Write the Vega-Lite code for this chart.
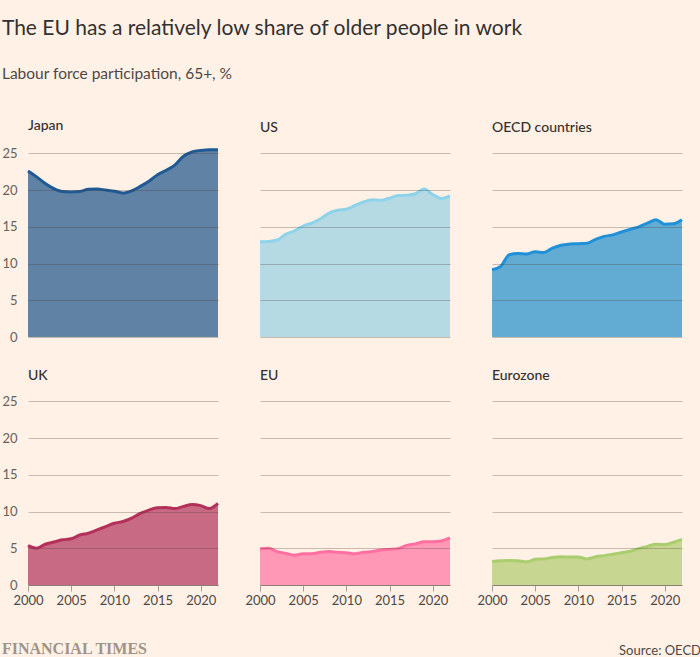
{
  "$schema": "https://vega.github.io/schema/vega-lite/v6.json",
  "padding": {"left": 1, "top": 18, "right": 1, "bottom": 0},
  "background": "#fff1e5",
  "title": {
    "text": "The EU has a relatively low share of older people in work",
    "subtitle": "Labour force participation, 65+, %",
    "anchor": "start",
    "frame": "bounds",
    "fontSize": 21,
    "fontWeight": "normal",
    "color": "#33302e",
    "subtitleFontSize": 15.5,
    "subtitleColor": "#4d4845",
    "subtitlePadding": 28,
    "offset": 36
  },
  "datasets": {
    "lfp": [
      {"country":"Japan","year":2000,"value":22.6},{"country":"Japan","year":2001,"value":21.8},{"country":"Japan","year":2002,"value":20.9},{"country":"Japan","year":2003,"value":20.2},{"country":"Japan","year":2004,"value":19.8},{"country":"Japan","year":2005,"value":19.75},{"country":"Japan","year":2006,"value":19.8},{"country":"Japan","year":2007,"value":20.1},{"country":"Japan","year":2008,"value":20.15},{"country":"Japan","year":2009,"value":20.0},{"country":"Japan","year":2010,"value":19.85},{"country":"Japan","year":2011,"value":19.6},{"country":"Japan","year":2012,"value":19.9},{"country":"Japan","year":2013,"value":20.5},{"country":"Japan","year":2014,"value":21.2},{"country":"Japan","year":2015,"value":22.1},{"country":"Japan","year":2016,"value":22.7},{"country":"Japan","year":2017,"value":23.4},{"country":"Japan","year":2018,"value":24.6},{"country":"Japan","year":2019,"value":25.2},{"country":"Japan","year":2020,"value":25.4},{"country":"Japan","year":2021,"value":25.5},{"country":"Japan","year":2022,"value":25.5},
      {"country":"US","year":2000,"value":12.95},{"country":"US","year":2001,"value":13.0},{"country":"US","year":2002,"value":13.2},{"country":"US","year":2003,"value":14.0},{"country":"US","year":2004,"value":14.45},{"country":"US","year":2005,"value":15.1},{"country":"US","year":2006,"value":15.5},{"country":"US","year":2007,"value":16.1},{"country":"US","year":2008,"value":16.85},{"country":"US","year":2009,"value":17.25},{"country":"US","year":2010,"value":17.4},{"country":"US","year":2011,"value":17.9},{"country":"US","year":2012,"value":18.4},{"country":"US","year":2013,"value":18.7},{"country":"US","year":2014,"value":18.6},{"country":"US","year":2015,"value":18.9},{"country":"US","year":2016,"value":19.25},{"country":"US","year":2017,"value":19.3},{"country":"US","year":2018,"value":19.5},{"country":"US","year":2019,"value":20.15},{"country":"US","year":2020,"value":19.4},{"country":"US","year":2021,"value":18.85},{"country":"US","year":2022,"value":19.2},
      {"country":"OECD countries","year":2000,"value":9.15},{"country":"OECD countries","year":2001,"value":9.6},{"country":"OECD countries","year":2002,"value":11.2},{"country":"OECD countries","year":2003,"value":11.35},{"country":"OECD countries","year":2004,"value":11.3},{"country":"OECD countries","year":2005,"value":11.6},{"country":"OECD countries","year":2006,"value":11.5},{"country":"OECD countries","year":2007,"value":12.1},{"country":"OECD countries","year":2008,"value":12.5},{"country":"OECD countries","year":2009,"value":12.65},{"country":"OECD countries","year":2010,"value":12.7},{"country":"OECD countries","year":2011,"value":12.75},{"country":"OECD countries","year":2012,"value":13.3},{"country":"OECD countries","year":2013,"value":13.7},{"country":"OECD countries","year":2014,"value":13.9},{"country":"OECD countries","year":2015,"value":14.3},{"country":"OECD countries","year":2016,"value":14.65},{"country":"OECD countries","year":2017,"value":15.0},{"country":"OECD countries","year":2018,"value":15.5},{"country":"OECD countries","year":2019,"value":15.95},{"country":"OECD countries","year":2020,"value":15.35},{"country":"OECD countries","year":2021,"value":15.4},{"country":"OECD countries","year":2022,"value":15.95},
      {"country":"UK","year":2000,"value":5.35},{"country":"UK","year":2001,"value":5.0},{"country":"UK","year":2002,"value":5.55},{"country":"UK","year":2003,"value":5.85},{"country":"UK","year":2004,"value":6.15},{"country":"UK","year":2005,"value":6.3},{"country":"UK","year":2006,"value":6.8},{"country":"UK","year":2007,"value":7.05},{"country":"UK","year":2008,"value":7.5},{"country":"UK","year":2009,"value":7.95},{"country":"UK","year":2010,"value":8.4},{"country":"UK","year":2011,"value":8.65},{"country":"UK","year":2012,"value":9.1},{"country":"UK","year":2013,"value":9.75},{"country":"UK","year":2014,"value":10.2},{"country":"UK","year":2015,"value":10.5},{"country":"UK","year":2016,"value":10.55},{"country":"UK","year":2017,"value":10.4},{"country":"UK","year":2018,"value":10.7},{"country":"UK","year":2019,"value":10.95},{"country":"UK","year":2020,"value":10.8},{"country":"UK","year":2021,"value":10.4},{"country":"UK","year":2022,"value":11.1},
      {"country":"EU","year":2000,"value":4.95},{"country":"EU","year":2001,"value":5.0},{"country":"EU","year":2002,"value":4.55},{"country":"EU","year":2003,"value":4.3},{"country":"EU","year":2004,"value":4.05},{"country":"EU","year":2005,"value":4.25},{"country":"EU","year":2006,"value":4.25},{"country":"EU","year":2007,"value":4.45},{"country":"EU","year":2008,"value":4.55},{"country":"EU","year":2009,"value":4.45},{"country":"EU","year":2010,"value":4.4},{"country":"EU","year":2011,"value":4.25},{"country":"EU","year":2012,"value":4.45},{"country":"EU","year":2013,"value":4.55},{"country":"EU","year":2014,"value":4.75},{"country":"EU","year":2015,"value":4.85},{"country":"EU","year":2016,"value":4.95},{"country":"EU","year":2017,"value":5.4},{"country":"EU","year":2018,"value":5.6},{"country":"EU","year":2019,"value":5.9},{"country":"EU","year":2020,"value":5.9},{"country":"EU","year":2021,"value":6.0},{"country":"EU","year":2022,"value":6.4},
      {"country":"Eurozone","year":2000,"value":3.2},{"country":"Eurozone","year":2001,"value":3.3},{"country":"Eurozone","year":2002,"value":3.35},{"country":"Eurozone","year":2003,"value":3.3},{"country":"Eurozone","year":2004,"value":3.15},{"country":"Eurozone","year":2005,"value":3.5},{"country":"Eurozone","year":2006,"value":3.55},{"country":"Eurozone","year":2007,"value":3.75},{"country":"Eurozone","year":2008,"value":3.85},{"country":"Eurozone","year":2009,"value":3.8},{"country":"Eurozone","year":2010,"value":3.8},{"country":"Eurozone","year":2011,"value":3.55},{"country":"Eurozone","year":2012,"value":3.85},{"country":"Eurozone","year":2013,"value":4.0},{"country":"Eurozone","year":2014,"value":4.2},{"country":"Eurozone","year":2015,"value":4.4},{"country":"Eurozone","year":2016,"value":4.6},{"country":"Eurozone","year":2017,"value":4.95},{"country":"Eurozone","year":2018,"value":5.25},{"country":"Eurozone","year":2019,"value":5.55},{"country":"Eurozone","year":2020,"value":5.5},{"country":"Eurozone","year":2021,"value":5.8},{"country":"Eurozone","year":2022,"value":6.2}
    ]
  },
  "vconcat": [
    {
      "title": {"text": "FINANCIAL TIMES", "orient": "bottom", "anchor": "start", "frame": "bounds", "font": "Liberation Serif", "fontSize": 16, "fontWeight": "bold", "color": "#a09389", "offset": 0, "dy": -17},
      "vconcat": [
        {
          "title": {"text": "Source: OECD", "orient": "bottom", "anchor": "end", "frame": "bounds", "fontSize": 13, "fontWeight": "normal", "color": "#4d4845", "offset": 38, "dx": 13},
          "vconcat": [
            {
              "data": {"name": "lfp"},
              "columns": 3,
              "bounds": "flush",
              "spacing": {"column": 42, "row": 57},
              "facet": {
                "field": "country",
                "type": "nominal",
                "sort": ["Japan", "US", "OECD countries", "UK", "EU", "Eurozone"],
                "header": {"title": null, "labelAnchor": "start", "labelOrient": "top", "labelFontSize": 14, "labelFontWeight": 500, "labelColor": "#33302e", "labelPadding": 0, "labelBaseline": "alphabetic"}
              },
              "spec": {
                "width": 190,
                "height": 191,
                "encoding": {
                  "x": {"field": "year", "type": "quantitative", "scale": {"domain": [2000, 2022], "nice": false}, "axis": {"values": [2000, 2005, 2010, 2015, 2020], "format": "d", "title": null, "grid": false, "labelOverlap": false, "labelFlush": false, "domainColor": "#a59d96", "tickColor": "#a59d96", "tickSize": 6, "labelFontSize": 13, "labelColor": "#4d4845", "labelPadding": 3}},
                  "y": {"field": "value", "type": "quantitative", "scale": {"domain": [0, 26], "nice": false}, "axis": {"values": [0, 5, 10, 15, 20, 25], "title": null, "domain": false, "ticks": false, "labelFontSize": 13, "labelColor": "#66605c", "labelPadding": 11, "gridColor": "#4d3b2f", "gridOpacity": 0.3, "zindex": 1}}
                },
                "layer": [
                  {
                    "mark": {"type": "area", "interpolate": "monotone"},
                    "encoding": {
                      "fill": {"field": "country", "type": "nominal", "scale": {"domain": ["Japan", "US", "OECD countries", "UK", "EU", "Eurozone"], "range": ["#6082a5", "#b5dae4", "#62acd4", "#c96a84", "#ff98b7", "#c7d691"]}, "legend": null}
                    }
                  },
                  {
                    "mark": {"type": "line", "interpolate": "monotone", "strokeWidth": 3},
                    "encoding": {
                      "stroke": {"field": "country", "type": "nominal", "scale": {"domain": ["Japan", "US", "OECD countries", "UK", "EU", "Eurozone"], "range": ["#1f5a94", "#8fd3ea", "#2090d8", "#b3305a", "#ff70a1", "#aace6f"]}, "legend": null}
                    }
                  }
                ]
              }
            }
          ]
        }
      ]
    }
  ],
  "config": {
    "font": "Lato",
    "view": {"stroke": null},
    "axis": {"labelFont": "Lato"},
    "header": {"labelFont": "Lato"}
  }
}
